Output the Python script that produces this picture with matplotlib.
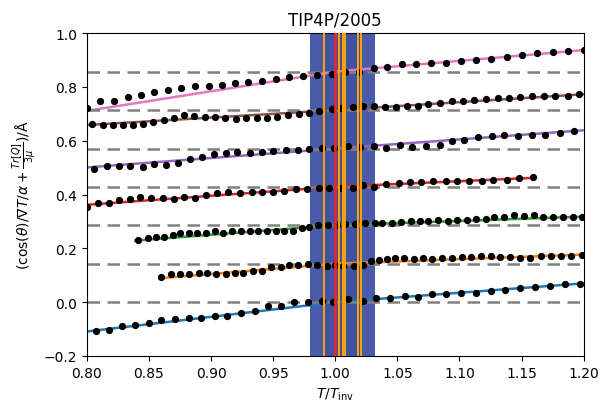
import matplotlib
matplotlib.use('Agg')
import matplotlib.pyplot as plt

# offsets of the dashed reference lines (i/7)
offsets = [0.0, 0.143, 0.286, 0.429, 0.571, 0.714, 0.857]

x0 = [0.807, 0.818, 0.828, 0.839, 0.850, 0.860, 0.871, 0.882, 0.892, 0.903, 0.913, 0.924,
      0.935, 0.946, 0.956, 0.967, 0.978, 0.989, 0.998, 1.010, 1.022, 1.033, 1.044, 1.056,
      1.067, 1.078, 1.089, 1.101, 1.113, 1.125, 1.137, 1.149, 1.161, 1.173, 1.185, 1.197]
y0 = [-0.107, -0.103, -0.089, -0.086, -0.076, -0.067, -0.064, -0.057, -0.057, -0.051, -0.052, -0.041,
      -0.033, -0.016, -0.015, 0.000, 0.000, 0.005, 0.001, 0.011, 0.005, 0.014, 0.016, 0.023,
      0.019, 0.029, 0.029, 0.033, 0.033, 0.042, 0.046, 0.051, 0.056, 0.061, 0.067, 0.069]

x1 = [0.860, 0.868, 0.875, 0.882, 0.890, 0.897, 0.904, 0.912, 0.919, 0.926, 0.934, 0.941,
      0.948, 0.956, 0.963, 0.970, 0.978, 0.985, 0.993, 1.000, 1.006, 1.015, 1.022,
      1.029, 1.035, 1.042, 1.048, 1.055, 1.063, 1.071, 1.078, 1.086, 1.094, 1.102, 1.109,
      1.117, 1.125, 1.133, 1.141, 1.149, 1.157, 1.166, 1.174, 1.182, 1.190, 1.199]
y1 = [0.094, 0.103, 0.104, 0.104, 0.108, 0.108, 0.105, 0.103, 0.108, 0.108, 0.115, 0.116,
      0.129, 0.130, 0.138, 0.138, 0.141, 0.138, 0.133, 0.138, 0.133, 0.135, 0.138,
      0.154, 0.156, 0.160, 0.164, 0.165, 0.160, 0.166, 0.162, 0.164, 0.165, 0.168, 0.168,
      0.173, 0.172, 0.168, 0.168, 0.165, 0.165, 0.170, 0.172, 0.173, 0.173, 0.176]

x2 = [0.841, 0.849, 0.856, 0.862, 0.869, 0.875, 0.882, 0.889, 0.896, 0.903, 0.910, 0.917,
      0.924, 0.931, 0.938, 0.945, 0.952, 0.959, 0.966, 0.973, 0.979, 0.986, 0.994,
      1.001, 1.008, 1.016,
      1.024, 1.032, 1.038, 1.046, 1.053, 1.061, 1.068, 1.075, 1.083, 1.091, 1.098, 1.106,
      1.113, 1.121, 1.128, 1.136, 1.144, 1.152, 1.160, 1.167, 1.175, 1.183, 1.191, 1.199]
y2 = [0.232, 0.237, 0.244, 0.244, 0.249, 0.257, 0.257, 0.259, 0.259, 0.263, 0.259, 0.264,
      0.264, 0.265, 0.263, 0.263, 0.265, 0.265, 0.265, 0.274, 0.280, 0.286, 0.286,
      0.288, 0.290, 0.292,
      0.294, 0.296, 0.296, 0.294, 0.299, 0.300, 0.301, 0.301, 0.304, 0.302, 0.306, 0.307,
      0.310, 0.311, 0.317, 0.318, 0.323, 0.322, 0.325, 0.315, 0.316, 0.315, 0.316, 0.316]

x3 = [0.800, 0.809, 0.818, 0.826, 0.835, 0.843, 0.852, 0.861, 0.870, 0.878, 0.887, 0.896,
      0.905, 0.914, 0.923, 0.933, 0.941, 0.950, 0.959, 0.968, 0.977, 0.987, 0.995,
      1.005, 1.014, 1.022, 1.031, 1.041, 1.051, 1.060, 1.069, 1.079, 1.089, 1.098, 1.108,
      1.118, 1.127, 1.138, 1.148, 1.159]
y3 = [0.354, 0.367, 0.368, 0.380, 0.383, 0.391, 0.389, 0.389, 0.385, 0.390, 0.389, 0.398,
      0.404, 0.408, 0.405, 0.411, 0.411, 0.410, 0.415, 0.420, 0.420, 0.425, 0.425,
      0.425, 0.425, 0.436, 0.430, 0.439, 0.444, 0.447, 0.446, 0.451, 0.452, 0.449, 0.451,
      0.451, 0.455, 0.455, 0.460, 0.466]

x4 = [0.806, 0.816, 0.826, 0.835, 0.845, 0.854, 0.864, 0.873, 0.883, 0.893, 0.902, 0.912,
      0.921, 0.931, 0.941, 0.950, 0.960, 0.970, 0.979, 0.989, 0.999,
      1.010, 1.020, 1.031, 1.041, 1.052, 1.062, 1.073, 1.084, 1.094, 1.104, 1.115, 1.126,
      1.136, 1.147, 1.158, 1.169, 1.181, 1.192]
y4 = [0.494, 0.507, 0.507, 0.506, 0.504, 0.512, 0.509, 0.519, 0.532, 0.540, 0.549, 0.553,
      0.559, 0.556, 0.560, 0.561, 0.564, 0.566, 0.571, 0.572, 0.573,
      0.579, 0.576, 0.579, 0.574, 0.584, 0.576, 0.582, 0.586, 0.600, 0.602, 0.615, 0.617,
      0.622, 0.618, 0.623, 0.622, 0.628, 0.636]

x5 = [0.804, 0.813, 0.821, 0.829, 0.837, 0.845, 0.853, 0.862, 0.870, 0.878, 0.886, 0.895,
      0.903, 0.911, 0.920, 0.928, 0.937, 0.945, 0.953, 0.962, 0.971, 0.979, 0.987, 0.997,
      1.005, 1.014, 1.022, 1.031, 1.040, 1.049, 1.058, 1.067, 1.075, 1.084, 1.094, 1.103,
      1.112, 1.121, 1.131, 1.140, 1.149, 1.158, 1.168, 1.177, 1.187, 1.196]
y5 = [0.662, 0.660, 0.660, 0.660, 0.660, 0.663, 0.670, 0.678, 0.685, 0.694, 0.691, 0.690,
      0.690, 0.683, 0.680, 0.685, 0.685, 0.685, 0.690, 0.694, 0.700, 0.705, 0.709, 0.717,
      0.722, 0.725, 0.730, 0.730, 0.727, 0.727, 0.731, 0.731, 0.735, 0.741, 0.747, 0.748,
      0.751, 0.755, 0.758, 0.758, 0.761, 0.765, 0.766, 0.767, 0.768, 0.773]

x6 = [0.800, 0.811, 0.822, 0.833, 0.844, 0.854, 0.865, 0.876, 0.887, 0.898, 0.909, 0.919,
      0.930, 0.941, 0.952, 0.963, 0.974, 0.985, 0.997, 1.008, 1.019, 1.031, 1.042, 1.054,
      1.065, 1.077, 1.089, 1.101, 1.113, 1.125, 1.138, 1.150, 1.162, 1.175, 1.187, 1.200]
y6 = [0.721, 0.746, 0.748, 0.763, 0.772, 0.783, 0.788, 0.796, 0.802, 0.804, 0.807, 0.813,
      0.817, 0.823, 0.828, 0.838, 0.839, 0.844, 0.848, 0.854, 0.857, 0.869, 0.875, 0.884,
      0.884, 0.888, 0.888, 0.895, 0.900, 0.905, 0.912, 0.919, 0.925, 0.929, 0.934, 0.939]

xs = [x0, x1, x2, x3, x4, x5, x6]
ys = [y0, y1, y2, y3, y4, y5, y6]

# fitted lines: start point, kink at T_inv (on the offset), end point
fit_start_x = [0.800, 0.859, 0.839, 0.800, 0.800, 0.802, 0.800]
fit_start_y = [-0.109, 0.089, 0.229, 0.362, 0.501, 0.659, 0.711]
fit_end_x = [1.200, 1.200, 1.200, 1.159, 1.200, 1.200, 1.200]
fit_end_y = [0.070, 0.177, 0.318, 0.462, 0.639, 0.773, 0.937]
fit_colors = ['C0', 'C1', 'C2', 'C3', 'C4', 'C5', 'C6']

band_outer = (0.980, 1.032)
band_inner = (0.991, 1.020)
orange_lines = [0.991, 1.003, 1.006, 1.008, 1.018, 1.021]
red_lines = [1.000]

fig = plt.figure(figsize=(6.03, 4.02), dpi=100)
ax = fig.add_axes([0.144, 0.112, 0.824, 0.803])

ax.axvspan(*band_outer, color='#4b5bab', lw=0, zorder=0.5)
ax.axvspan(*band_inner, color='#3f52a4', lw=0, zorder=0.6)

for i in range(7):
    ax.plot([fit_start_x[i], 1.0, fit_end_x[i]],
            [fit_start_y[i], offsets[i], fit_end_y[i]],
            color=fit_colors[i], lw=1.8, zorder=1)
    ax.axhline(offsets[i], color='gray', ls=(0, (5, 3)), lw=1.8, zorder=2)
    ax.plot(xs[i], ys[i], 'o', color='black', ms=4.2, zorder=3)

for v in orange_lines:
    ax.axvline(v, color='orange', lw=1.4, zorder=4)
for v in red_lines:
    ax.axvline(v, color='#e8262a', lw=2.0, zorder=4)

ax.set_xlim(0.8, 1.2)
ax.set_ylim(-0.2, 1.0)
ax.set_title('TIP4P/2005')
ax.set_xlabel(r'$T/T_{\rm inv}$')
ax.set_ylabel(r'$(\cos(\theta)/\nabla T/\alpha + \frac{Tr[Q]}{3\mu})$/Å')

fig.savefig('out.png', dpi=100)
